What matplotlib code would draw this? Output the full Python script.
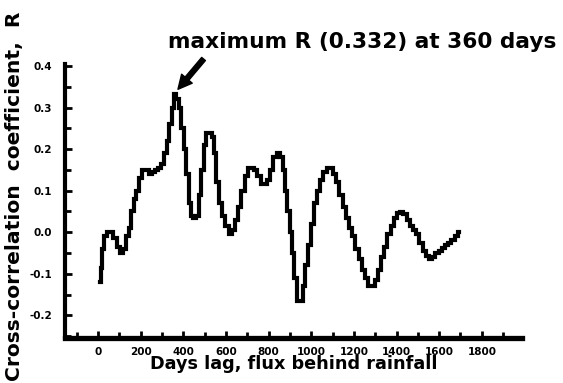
import matplotlib
matplotlib.use("Agg")
import matplotlib.pyplot as plt
from matplotlib.ticker import MultipleLocator

# Lag (days, flux behind rainfall) and cross-correlation coefficient R
lag_days = [10, 15, 22, 35, 50, 65, 80, 95, 110, 125, 140, 150, 160, 175, 185,
            200, 215, 230, 245, 260, 275, 290, 305, 318, 328, 340, 350, 360,
            372, 385, 398, 410, 420, 430, 440, 455, 465, 478, 490, 502, 515,
            530, 540, 550, 560, 575, 590, 605, 620, 635, 650, 665, 680, 695,
            710, 725, 740, 755, 770, 785, 800, 815, 830, 845, 860, 872, 882,
            892, 905, 915, 925, 940, 955, 965, 978, 990, 1005, 1020, 1035,
            1050, 1065, 1080, 1095, 1110, 1125, 1140, 1155, 1170, 1185, 1200,
            1215, 1230, 1245, 1260, 1275, 1290, 1305, 1320, 1335, 1350, 1365,
            1380, 1395, 1410, 1425, 1440, 1455, 1470, 1485, 1500, 1515, 1530,
            1545, 1560, 1575, 1590, 1605, 1620, 1635, 1650, 1665, 1680, 1695]
r_values = [-0.12, -0.085, -0.04, -0.01, 0.0, 0.0, -0.015, -0.035, -0.05,
            -0.04, -0.01, 0.01, 0.05, 0.08, 0.10, 0.13, 0.15, 0.15, 0.14,
            0.145, 0.15, 0.155, 0.165, 0.19, 0.22, 0.26, 0.30, 0.332, 0.32,
            0.30, 0.25, 0.20, 0.14, 0.07, 0.04, 0.035, 0.04, 0.09, 0.15, 0.21,
            0.24, 0.24, 0.23, 0.19, 0.12, 0.07, 0.04, 0.015, -0.005, 0.005,
            0.03, 0.06, 0.10, 0.135, 0.155, 0.155, 0.15, 0.135, 0.115, 0.115,
            0.125, 0.15, 0.18, 0.19, 0.18, 0.15, 0.10, 0.05, 0.0, -0.05,
            -0.11, -0.165, -0.165, -0.13, -0.08, -0.03, 0.02, 0.07, 0.10,
            0.125, 0.145, 0.155, 0.155, 0.14, 0.12, 0.09, 0.06, 0.035, 0.01,
            -0.01, -0.04, -0.065, -0.09, -0.11, -0.13, -0.13, -0.115, -0.09,
            -0.06, -0.035, -0.005, 0.015, 0.035, 0.047, 0.048, 0.045, 0.03,
            0.015, 0.005, -0.005, -0.025, -0.045, -0.058, -0.065, -0.06, -0.05,
            -0.045, -0.038, -0.03, -0.025, -0.018, -0.01, 0.0]

x_ticks = [0, 200, 400, 600, 800, 1000, 1200, 1400, 1600, 1800]
y_ticks = [-0.2, -0.1, 0.0, 0.1, 0.2, 0.3, 0.4]
y_tick_labels = ["-0.2", "-0.1", "0.0", "0.1", "0.2", "0.3", "0.4"]

peak_i = max(range(len(r_values)), key=lambda i: r_values[i])
peak_day, peak_r = lag_days[peak_i], r_values[peak_i]

BOLD = dict(family="DejaVu Sans", fontweight="bold")

fig = plt.figure(figsize=(5.63, 3.83), dpi=100)
ax = fig.add_axes([0.115, 0.117, 0.812, 0.716])

ax.plot(lag_days, r_values, color="black", lw=3.0, drawstyle="steps-mid",
        solid_joinstyle="miter")

ax.set_xlim(-156, 1988)
ax.set_ylim(-0.255, 0.405)

for side in ("top", "right"):
    ax.spines[side].set_visible(False)
ax.spines["left"].set_linewidth(3.0)
ax.spines["bottom"].set_linewidth(3.8)

ax.set_xticks(x_ticks)
ax.set_xticklabels([str(t) for t in x_ticks])
ax.xaxis.set_minor_locator(MultipleLocator(100))
ax.set_yticks(y_ticks)
ax.set_yticklabels(y_tick_labels)
ax.yaxis.set_minor_locator(MultipleLocator(0.05))

ax.tick_params(axis="both", which="both", direction="in", width=2.0,
               color="black")
ax.tick_params(axis="both", which="major", length=5)
ax.tick_params(axis="both", which="minor", length=4)
ax.tick_params(axis="x", which="major", pad=6)
ax.tick_params(axis="y", which="major", pad=9)
for lab in ax.get_xticklabels() + ax.get_yticklabels():
    lab.set_family("DejaVu Sans")
    lab.set_fontweight("bold")
    lab.set_fontsize(7.5)

ax.set_xlabel("Days lag, flux behind rainfall", fontsize=12.7, labelpad=-1,
              **BOLD)

fig.text(0.025, 0.487, "Cross-correlation  coefficient,  R", rotation=90,
         ha="center", va="center", fontsize=14.6, **BOLD)

fig.text(0.643, 0.89, f"maximum R ({peak_r:.3f}) at {peak_day} days",
         ha="center", va="center", fontsize=15.6, **BOLD)

ax.annotate("", xy=(peak_day + 15, peak_r + 0.012),
            xytext=(peak_day + 135, peak_r + 0.085),
            textcoords="data", annotation_clip=False,
            arrowprops=dict(facecolor="black", edgecolor="black", width=3.5,
                            headwidth=10, headlength=10, shrink=0))

fig.savefig("out.png", dpi=100)
